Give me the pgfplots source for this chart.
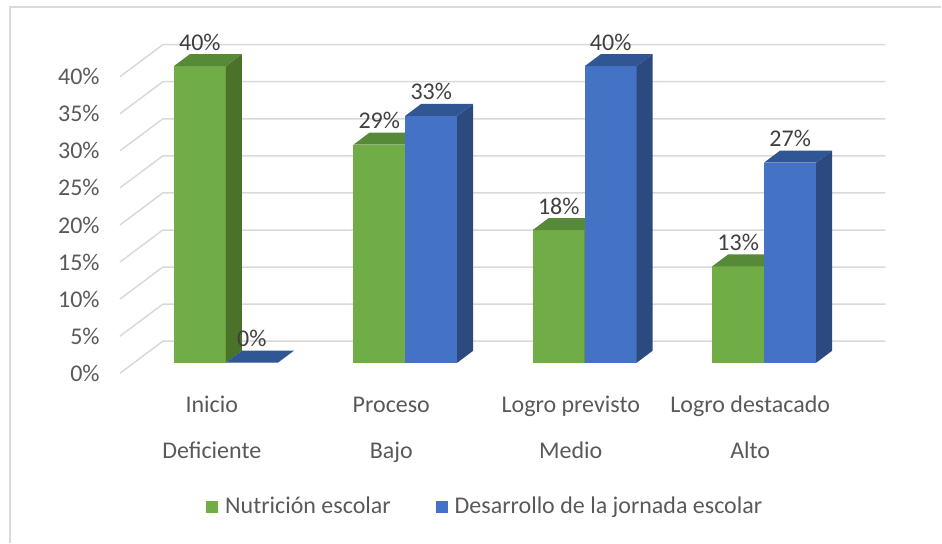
\documentclass[border=0pt]{standalone}
\usepackage{pgfplots}
\pgfplotsset{compat=1.18}
\usepackage{pgfplotstable}
\usepackage{fontspec}
\setmainfont{Carlito}
\definecolor{nfront}{HTML}{70AD47}
\definecolor{nside}{HTML}{4A7229}
\definecolor{ntop}{HTML}{578A38}
\definecolor{dfront}{HTML}{4472C4}
\definecolor{dside}{HTML}{2C4A80}
\definecolor{dtop}{HTML}{315694}
\definecolor{gridc}{HTML}{D9D9D9}
\definecolor{txt}{HTML}{595959}
\definecolor{lbl}{HTML}{404040}

\pgfplotstableread{
x nut des
0 40 0
1 29.4 33.3
2 17.9 40
3 13 27
}\datatable

% 3D box drawn around the data point (top-right corner of the front face)
\newcommand\drawcube[3]{%
  \pgfmathsetlengthmacro\H{\hval*3.71pt}%
  \pgfpathrectanglecorners{\pgfpoint{-26pt}{-\H}}{\pgfpoint{0pt}{0pt}}%
  \pgfsetfillcolor{#1}\pgfusepath{fill}%
  \pgfpathmoveto{\pgfpoint{0pt}{-\H}}%
  \pgfpathlineto{\pgfpoint{8pt}{6pt-\H}}%
  \pgfpathlineto{\pgfpoint{8pt}{6pt}}%
  \pgfpathlineto{\pgfpoint{0pt}{0pt}}%
  \pgfpathclose
  \pgfsetfillcolor{#2}\pgfusepath{fill}%
  \pgfpathmoveto{\pgfpoint{-26pt}{0pt}}%
  \pgfpathlineto{\pgfpoint{0pt}{0pt}}%
  \pgfpathlineto{\pgfpoint{8pt}{6pt}}%
  \pgfpathlineto{\pgfpoint{-18pt}{6pt}}%
  \pgfpathclose
  \pgfsetfillcolor{#3}\pgfusepath{fill}%
}
\pgfdeclareplotmark{cubeN}{\drawcube{nfront}{nside}{ntop}}
\pgfdeclareplotmark{cubeD}{\drawcube{dfront}{dside}{dtop}}

\begin{document}
\fontsize{12}{14}\selectfont
\begin{tikzpicture}
\begin{axis}[
  x=89.8pt, y=3.71pt,
  xmin=-0.590, xmax=3.675, ymin=0, ymax=45,
  clip=false,
  axis line style={draw=none},
  major tick length=0pt,
  /pgf/number format/assume math mode=true,
  ytick={0,5,...,40},
  yticklabels={0\%,5\%,10\%,15\%,20\%,25\%,30\%,35\%,40\%},
  yticklabel style={anchor=east, inner sep=0pt, xshift=-10pt, yshift=-5.25pt, text=txt},
  xtick={0,1,2,3},
  xticklabels={Inicio,Proceso,Logro previsto,Logro destacado},
  xticklabel style={anchor=base, inner sep=0pt, xshift=-7pt, yshift=-25pt, text=txt},
  extra x ticks={0,1,2,3},
  extra x tick labels={Deficiente,Bajo,Medio,Alto},
  extra x tick style={xticklabel style={yshift=-23pt}},
  legend columns=2,
  legend style={draw=none, fill=none, inner sep=0pt,
    at={(axis description cs:0.476,-0.431)}, anchor=center,
    nodes={inner sep=0pt, text=txt},
    /tikz/every odd column/.append style={column sep=3.5pt},
    /tikz/every even column/.append style={column sep=22.5pt}},
  legend image code/.code={\fill[#1] (0pt,-3pt) rectangle (6pt,3pt);},
]
\coordinate (O) at (axis cs:0,0);
\pgfplotsinvokeforeach{0,5,...,40}{
  \draw[gridc, line width=0.75pt] (axis cs:-0.590,{#1-1.42}) -- (axis cs:-0.351,{#1+2.90}) -- (axis cs:3.675,{#1+2.90});
}
\addlegendimage{fill=nfront, draw=none}
\addlegendentry{Nutrición escolar}
\addlegendimage{fill=dfront, draw=none}
\addlegendentry{Desarrollo de la jornada escolar}

\addplot[scatter, only marks, mark=cubeN, forget plot,
  scatter/@pre marker code/.code={\pgfscope},
  scatter/@post marker code/.code={\endpgfscope},
  visualization depends on={rawy\as\hval},
  point meta=y,
  nodes near coords={\pgfmathprintnumber[fixed,precision=0]{\pgfplotspointmeta}\%},
  every node near coord/.append style={anchor=center, xshift=-13pt, yshift=12pt, text=lbl, inner sep=0pt},
] table[x=x, y=nut] {\datatable};

\addplot[scatter, only marks, mark=cubeD, forget plot,
  scatter/@pre marker code/.code={\pgfscope},
  scatter/@post marker code/.code={\endpgfscope},
  visualization depends on={rawy\as\hval},
  point meta=y,
  nodes near coords={\pgfmathprintnumber[fixed,precision=0]{\pgfplotspointmeta}\%},
  every node near coord/.append style={anchor=center, xshift=-13pt, yshift=12pt, text=lbl, inner sep=0pt},
] table[x expr=\thisrow{x}+0.28953, y=des] {\datatable};
\end{axis}
\draw[gridc, line width=0.75pt] (O) ++(-108pt,-90pt) -- ++(0pt,268pt) -- ++(466pt,0pt);
\path[use as bounding box] (O) ++(-113pt,181.5pt) rectangle ++(471pt,-271.5pt);
\end{tikzpicture}
\end{document}
